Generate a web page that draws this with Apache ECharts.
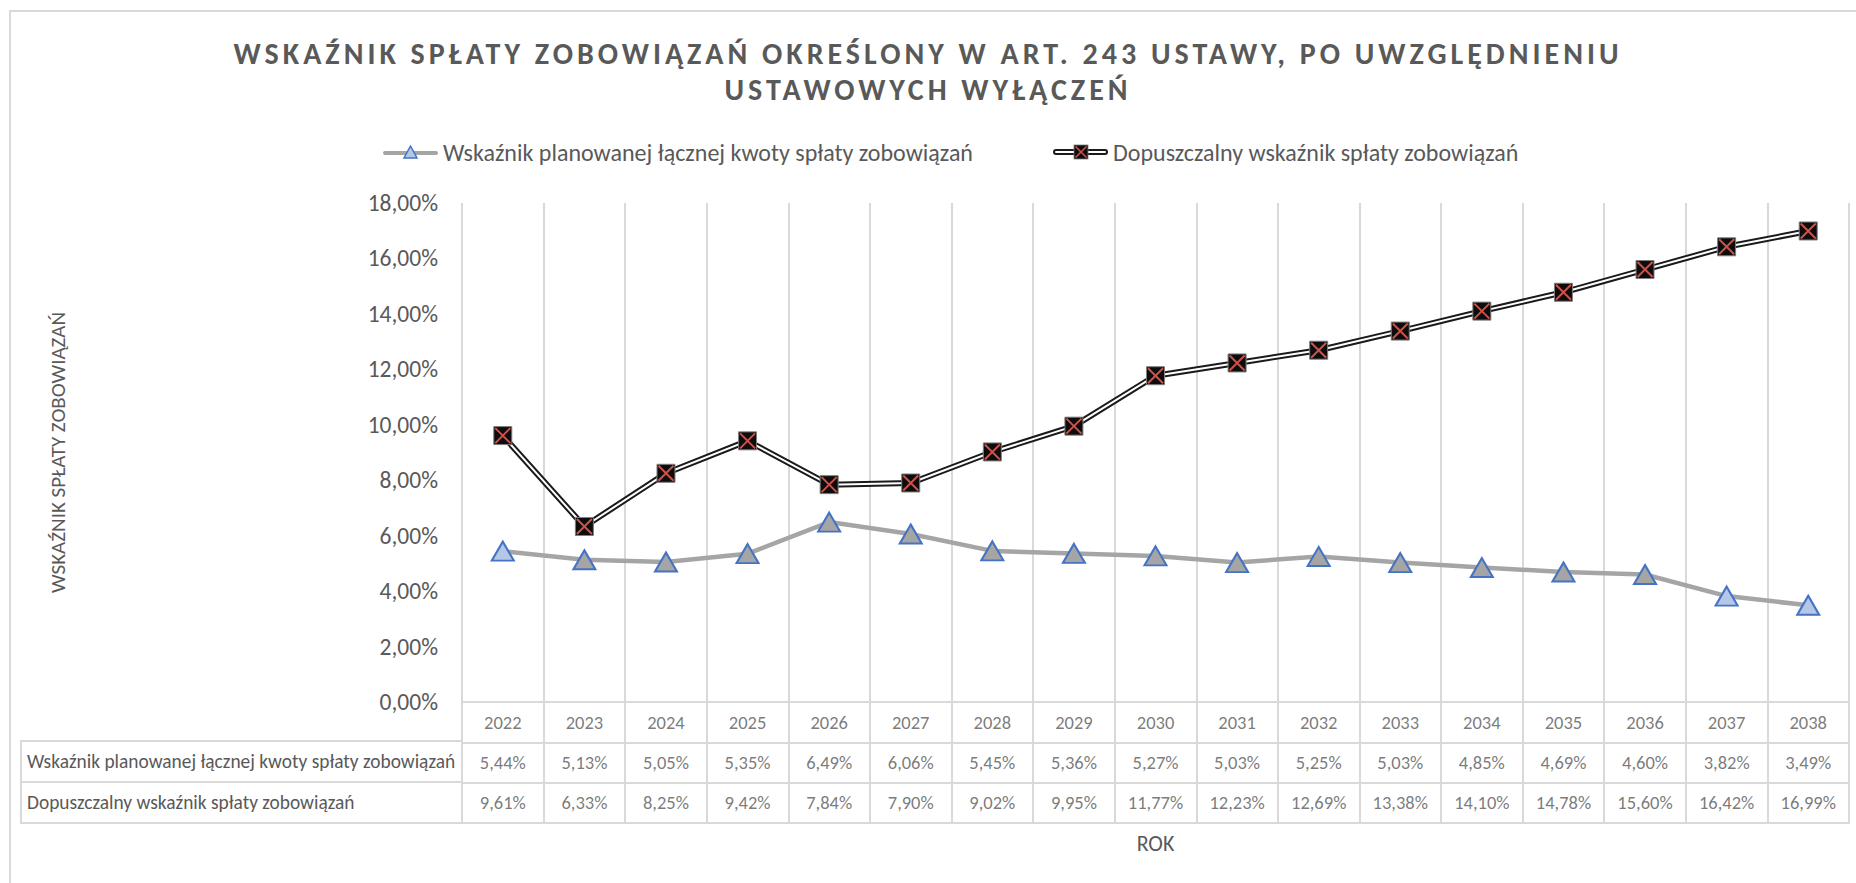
<!DOCTYPE html>
<html>
<head>
<meta charset="utf-8">
<script src="https://cdn.jsdelivr.net/npm/echarts@6/dist/echarts.min.js"></script>
<style>
html, body { margin: 0; padding: 0; background: #ffffff; }
#chart { width: 1856px; height: 883px; }
</style>
</head>
<body>
<div id="chart"></div>
<script>
// ---- data ----
const years = ['2022','2023','2024','2025','2026','2027','2028','2029','2030','2031','2032','2033','2034','2035','2036','2037','2038'];
const planned = [5.44, 5.13, 5.05, 5.35, 6.49, 6.06, 5.45, 5.36, 5.27, 5.03, 5.25, 5.03, 4.85, 4.69, 4.60, 3.82, 3.49];
const allowed = [9.61, 6.33, 8.25, 9.42, 7.84, 7.90, 9.02, 9.95, 11.77, 12.23, 12.69, 13.38, 14.10, 14.78, 15.60, 16.42, 16.99];
const seriesNames = ['Wskaźnik planowanej łącznej kwoty spłaty zobowiązań', 'Dopuszczalny wskaźnik spłaty zobowiązań'];
const titleLines = ['WSKAŹNIK SPŁATY ZOBOWIĄZAŃ OKREŚLONY W ART. 243 USTAWY, PO UWZGLĘDNIENIU', 'USTAWOWYCH WYŁĄCZEŃ'];
const yAxisTitle = 'WSKAŹNIK SPŁATY ZOBOWIĄZAŃ';
const xAxisTitle = 'ROK';
const yMin = 0, yMax = 18, yStep = 2;

// ---- styling helpers ----
const FONT = 'Carlito, Lato, sans-serif';
const TXT = '#595959';
const GRID = '#d9d9d9';
const fmt = v => v.toFixed(2).replace('.', ',') + '%';
const lightPoints = [0, 15, 16];

const svgIcon = s => 'image://data:image/svg+xml;charset=utf-8,' + encodeURIComponent(s);
const icon1 = svgIcon('<svg xmlns="http://www.w3.org/2000/svg" width="55" height="18" viewBox="0 0 55 18">' +
  '<line x1="2" y1="10" x2="53" y2="10" stroke="#a5a5a5" stroke-width="4" stroke-linecap="round"/>' +
  '<polygon points="27.5,3 34,15 21,15" fill="#b4c7e7" stroke="#4472c4" stroke-width="1.5"/></svg>');
const icon2 = svgIcon('<svg xmlns="http://www.w3.org/2000/svg" width="55" height="18" viewBox="0 0 55 18">' +
  '<line x1="3" y1="9" x2="52" y2="9" stroke="#1a1a1a" stroke-width="6" stroke-linecap="round"/>' +
  '<line x1="3" y1="9" x2="52" y2="9" stroke="#ffffff" stroke-width="2" stroke-linecap="round"/>' +
  '<rect x="21" y="2" width="14" height="14" fill="#0d0d0d" stroke="#7f7f7f" stroke-width="0.8"/>' +
  '<path d="M22.5,3.5L33.5,14.5M33.5,3.5L22.5,14.5" stroke="#d0504a" stroke-width="1.6"/></svg>');

const cellSeries = (row, values, formatter) => ({
  type: 'scatter', xAxisIndex: 1, yAxisIndex: 1, silent: true,
  symbolSize: 1, itemStyle: { color: 'rgba(0,0,0,0)' },
  data: values.map((v, i) => [i, row, v]),
  label: { show: true, position: 'inside', formatter: p => formatter(p.value[2]),
           fontFamily: FONT, fontSize: 18.5, color: TXT }
});

const chart = echarts.init(document.getElementById('chart'), null, { renderer: 'svg' });
chart.setOption({
  animation: false,
  backgroundColor: '#ffffff',
  title: {
    text: titleLines.join('\n'),
    left: 'center', top: 30,
    textStyle: { fontFamily: FONT, fontWeight: 'bold', fontSize: 30, color: TXT, lineHeight: 36 }
  },
  legend: [
    { left: 378, top: 135, itemWidth: 55, itemHeight: 18, data: [{ name: seriesNames[0], icon: icon1 }],
      textStyle: { fontFamily: FONT, fontSize: 24, color: TXT } },
    { left: 1048, top: 135, itemWidth: 55, itemHeight: 18, data: [{ name: seriesNames[1], icon: icon2 }],
      textStyle: { fontFamily: FONT, fontSize: 24, color: TXT } }
  ],
  graphic: [{ type: 'rect', silent: true, z: -10,
    shape: { x: 10, y: 11, width: 1900, height: 1000 },
    style: { fill: 'none', stroke: GRID, lineWidth: 2 } }],
  grid: [
    { left: 462, right: 7, top: 203, bottom: 181 },
    { left: 462, right: 7, top: 702, height: 121, show: true, borderColor: GRID, borderWidth: 2 },
    { left: 21, width: 441, top: 741, height: 82, show: true, borderColor: GRID, borderWidth: 2 }
  ],
  xAxis: [
    { type: 'category', gridIndex: 0, data: years, boundaryGap: true,
      axisLine: { show: false }, axisTick: { show: false }, axisLabel: { show: false },
      splitLine: { show: true, interval: 0, lineStyle: { color: GRID, width: 2 } } },
    { type: 'category', gridIndex: 1, data: years, boundaryGap: true,
      axisLine: { show: false }, axisTick: { show: false }, axisLabel: { show: false },
      splitLine: { show: true, interval: 0, lineStyle: { color: GRID, width: 2 } },
      name: xAxisTitle, nameLocation: 'middle', nameGap: 9,
      nameTextStyle: { fontFamily: FONT, fontSize: 22, color: TXT } },
    { type: 'value', gridIndex: 2, show: false }
  ],
  yAxis: [
    { type: 'value', gridIndex: 0, min: yMin, max: yMax, interval: yStep,
      axisLine: { show: false }, axisTick: { show: false }, splitLine: { show: false },
      axisLabel: { formatter: fmt, fontFamily: FONT, fontSize: 23.5, color: TXT, margin: 24 },
      name: yAxisTitle, nameLocation: 'middle', nameGap: 394, nameRotate: 90,
      nameTextStyle: { fontFamily: FONT, fontSize: 21, color: TXT } },
    { type: 'category', gridIndex: 1, data: ['year', 'r1', 'r2'], inverse: true, boundaryGap: true,
      axisLine: { show: false }, axisTick: { show: false }, axisLabel: { show: false },
      splitLine: { show: true, interval: 0, lineStyle: { color: GRID, width: 2 } } },
    { type: 'category', gridIndex: 2, data: seriesNames, inverse: true, boundaryGap: true,
      axisLine: { show: false }, axisTick: { show: false },
      axisLabel: { inside: true, margin: 6, fontFamily: FONT, fontSize: 19.4, color: TXT },
      splitLine: { show: true, interval: 0, lineStyle: { color: GRID, width: 2 } } }
  ],
  series: [
    { name: seriesNames[0], type: 'line', z: 4,
      data: planned.map((v, i) => lightPoints.includes(i) ? { value: v, itemStyle: { color: '#b4c7e7' } } : v),
      lineStyle: { color: '#a5a5a5', width: 4.5 },
      symbol: 'triangle', symbolSize: [22, 19],
      itemStyle: { color: '#a5a5a5', borderColor: '#4472c4', borderWidth: 2 } },
    { name: 'outer', type: 'line', z: 2, silent: true, data: allowed, symbol: 'none',
      lineStyle: { color: '#1a1a1a', width: 6 } },
    { name: 'inner', type: 'line', z: 3, silent: true, data: allowed, symbol: 'none',
      lineStyle: { color: '#ffffff', width: 2 } },
    { name: seriesNames[1], type: 'line', z: 5, data: allowed,
      lineStyle: { opacity: 0, width: 0 },
      symbol: 'rect', symbolSize: 18,
      itemStyle: { color: '#0d0d0d', borderColor: '#7f7f7f', borderWidth: 1 } },
    { name: 'xmark', type: 'line', z: 6, silent: true, data: allowed,
      lineStyle: { opacity: 0, width: 0 },
      symbol: 'path://M0,0L10,10M10,0L0,10', symbolSize: 15,
      itemStyle: { color: 'rgba(0,0,0,0)', borderColor: '#d0504a', borderWidth: 2 } },
    cellSeries(0, years, v => v),
    cellSeries(1, planned, fmt),
    cellSeries(2, allowed, fmt)
  ]
});

function spaceTitle() {
  document.querySelectorAll('#chart text').forEach(t => {
    if (titleLines.includes(t.textContent.trim())) t.style.letterSpacing = '4px';
  });
}
spaceTitle();
chart.on('finished', spaceTitle);
</script>
</body>
</html>
